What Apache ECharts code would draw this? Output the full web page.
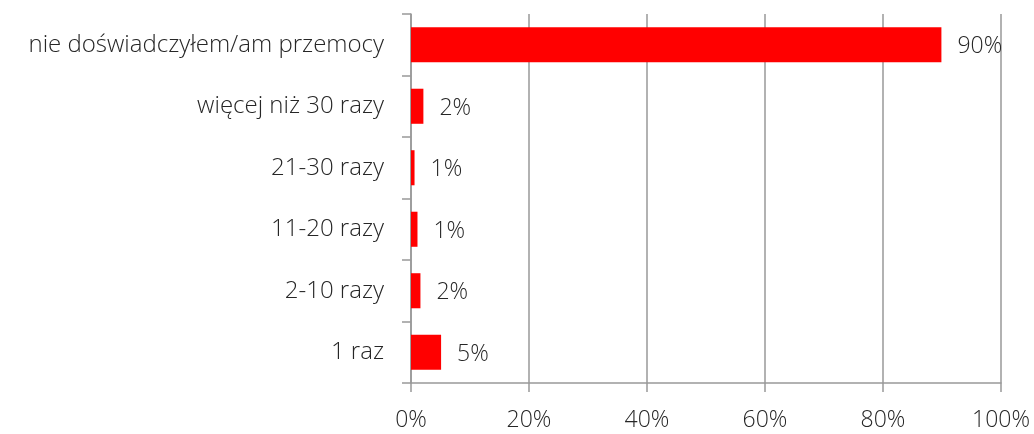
<!DOCTYPE html>
<html>
<head>
<meta charset="utf-8">
<script src="https://cdn.jsdelivr.net/npm/echarts@6/dist/echarts.min.js"></script>
<style>html,body{margin:0;padding:0;background:#fff}#c{width:1034px;height:434px}</style>
</head>
<body>
<div id="c"></div>
<script>
const categories = ["1 raz", "2-10 razy", "11-20 razy", "21-30 razy", "więcej niż 30 razy", "nie doświadczyłem/am przemocy"];
const values = [5.1, 1.6, 1.1, 0.6, 2.1, 89.9];
const xTicks = [0, 20, 40, 60, 80, 100];

const FONT = '"Open Sans", "DejaVu Sans", sans-serif';
const TXT = '#262626';
const GRID = '#999999';
const FS = 23;

const chart = echarts.init(document.getElementById('c'), null, {renderer: 'canvas'});
chart.setOption({
  animation: false,
  grid: {left: 411, right: 33, top: 14, bottom: 51, containLabel: false},
  xAxis: {
    type: 'value', min: xTicks[0], max: xTicks[xTicks.length - 1], interval: 20,
    axisLine: {show: true, lineStyle: {color: GRID, width: 1.5}},
    axisTick: {show: true, length: 9, lineStyle: {color: GRID, width: 1.5}},
    splitLine: {show: true, lineStyle: {color: GRID, width: 1.5}},
    axisLabel: {color: TXT, fontFamily: FONT, fontWeight: 300, fontSize: FS, margin: 26, formatter: v => v + '%'}
  },
  yAxis: {
    type: 'category', data: categories,
    axisLine: {show: true, lineStyle: {color: GRID, width: 1.5}},
    axisTick: {show: true, length: 9, alignWithLabel: false, lineStyle: {color: GRID, width: 1.5}},
    axisLabel: {color: TXT, fontFamily: FONT, fontWeight: 300, fontSize: 24, margin: 27}
  },
  series: [{
    type: 'bar', data: values, barCategoryGap: '43%',
    itemStyle: {color: '#ff0000'},
    label: {show: true, position: 'right', distance: 16, offset: [0, 2], color: TXT, fontFamily: FONT, fontWeight: 300, fontSize: FS,
      formatter: p => Math.round(p.value) + '%'}
  }]
});
</script>
</body>
</html>
